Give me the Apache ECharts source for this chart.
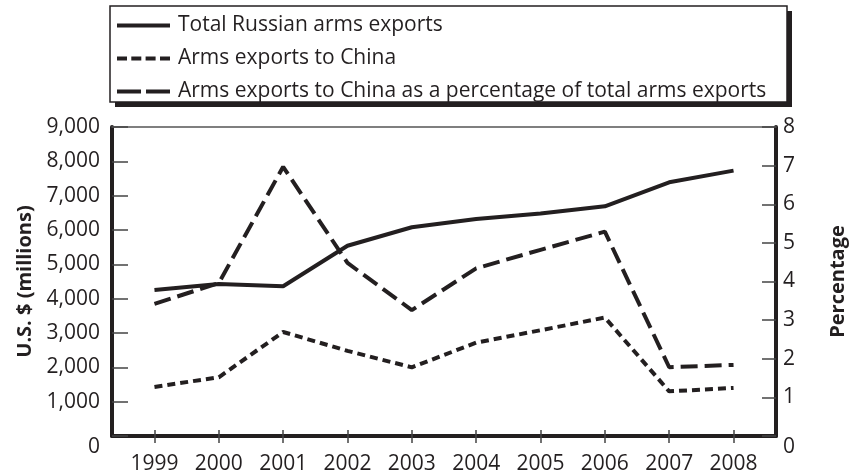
<!DOCTYPE html>
<html>
<head>
<meta charset="utf-8">
<script src="https://cdn.jsdelivr.net/npm/echarts@6/dist/echarts.min.js"></script>
<style>html,body{margin:0;padding:0;background:#fff}#c{width:856px;height:475px}</style>
</head>
<body>
<div id="c"></div>
<script>
const years = [1999, 2000, 2001, 2002, 2003, 2004, 2005, 2006, 2007, 2008];
const totalExports = [4250, 4430, 4360, 5540, 6080, 6320, 6480, 6690, 7390, 7730];
const chinaExports = [1430, 1710, 3030, 2480, 2000, 2720, 3080, 3450, 1300, 1400];
const chinaPercent = [3.42, 3.96, 6.97, 4.48, 3.26, 4.34, 4.82, 5.29, 1.78, 1.84];
const seriesNames = ['Total Russian arms exports', 'Arms exports to China', 'Arms exports to China as a percentage of total arms exports'];
const leftAxisName = 'U.S. $ (millions)';
const rightAxisName = 'Percentage';

const ink = '#231f20';
const font = 'Open Sans';
const fs = 21;
const pair = arr => years.map((y, i) => [y, arr[i]]);
const zeroRich = { z: { padding: [22, 0, 0, 0], fontSize: fs, fontFamily: font, color: ink } };
const legendIcons = [
  'path://M0,0h53v4h-53z',
  'path://M0,0h10v4h-10zM14.3,0h10v4h-10zM28.6,0h10v4h-10zM43,0h10v4h-10z',
  'path://M0,0h24v4h-24zM29,0h24v4h-24z'
];

const chart = echarts.init(document.getElementById('c'), null, { renderer: 'canvas' });
chart.setOption({
  animation: false,
  backgroundColor: '#fff',
  graphic: [
    { type: 'rect', shape: { x: 115, y: 11, width: 677, height: 96 }, style: { fill: ink }, z: -1 },
    { type: 'rect', shape: { x: 110, y: 6, width: 677, height: 96 }, style: { fill: '#fff', stroke: ink, lineWidth: 1.5 }, z: -1 }
  ],
  legend: {
    orient: 'vertical',
    left: 112,
    top: 10,
    itemWidth: 53,
    itemHeight: 4,
    itemGap: 12,
    textStyle: { fontFamily: font, fontSize: fs, color: ink, padding: [0, 0, 0, 3] },
    data: seriesNames.map((n, i) => ({ name: n, icon: legendIcons[i], itemStyle: { color: ink } }))
  },
  grid: { left: 112, right: 65, top: 127, bottom: 39, containLabel: false },
  xAxis: [
    {
      type: 'value', min: 1998.34, max: 2008.66, position: 'bottom',
      axisLine: { show: true, onZero: false, lineStyle: { color: ink, width: 4 } },
      axisTick: { show: true, inside: false, length: 7, lineStyle: { color: '#444', width: 1.5 }, customValues: years },
      axisLabel: { margin: 18, fontFamily: font, fontSize: fs, color: ink, customValues: years, formatter: v => String(v) },
      splitLine: { show: false }
    },
    {
      type: 'value', min: 1998.34, max: 2008.66, position: 'bottom',
      axisLine: { show: false, onZero: false },
      axisTick: { show: true, inside: true, length: 6, lineStyle: { color: '#444', width: 1.5 }, customValues: years },
      axisLabel: { show: false },
      splitLine: { show: false }
    },
    {
      type: 'value', min: 1998.34, max: 2008.66, position: 'top',
      axisLine: { show: true, onZero: false, lineStyle: { color: '#555', width: 1.5 } },
      axisTick: { show: false }, axisLabel: { show: false }, splitLine: { show: false }
    }
  ],
  yAxis: [
    {
      type: 'value', min: 0, max: 9000, interval: 1000, position: 'left',
      name: leftAxisName, nameLocation: 'middle', nameGap: 77, nameRotate: 90,
      nameTextStyle: { fontFamily: font, fontSize: fs - 1, fontWeight: 'bold', color: ink },
      axisLine: { show: true, onZero: false, lineStyle: { color: ink, width: 4 } },
      axisTick: { show: true, inside: true, length: 16, lineStyle: { color: '#444', width: 1.5 } },
      axisLabel: { margin: 12, fontFamily: font, fontSize: fs, color: ink, rich: zeroRich,
        formatter: v => v === 0 ? '{z|0}' : v.toLocaleString('en-US') },
      splitLine: { show: false }
    },
    {
      type: 'value', min: 0, max: 8, interval: 1, position: 'right',
      name: rightAxisName, nameLocation: 'middle', nameGap: 52, nameRotate: 90,
      nameTextStyle: { fontFamily: font, fontSize: fs - 1, fontWeight: 'bold', color: ink },
      axisLine: { show: true, onZero: false, lineStyle: { color: ink, width: 4 } },
      axisTick: { show: true, inside: true, length: 14, lineStyle: { color: '#444', width: 1.5 } },
      axisLabel: { margin: 7, fontFamily: font, fontSize: fs, color: ink, rich: zeroRich,
        formatter: v => v === 0 ? '{z|0}' : String(v) },
      splitLine: { show: false }
    }
  ],
  series: [
    { name: seriesNames[0], type: 'line', xAxisIndex: 0, yAxisIndex: 0, data: pair(totalExports),
      symbol: 'none', showSymbol: false, lineStyle: { color: ink, width: 4, type: 'solid' }, itemStyle: { color: ink } },
    { name: seriesNames[1], type: 'line', xAxisIndex: 0, yAxisIndex: 0, data: pair(chinaExports),
      symbol: 'none', showSymbol: false, lineStyle: { color: ink, width: 4, type: [8, 5] }, itemStyle: { color: ink } },
    { name: seriesNames[2], type: 'line', xAxisIndex: 0, yAxisIndex: 1, data: pair(chinaPercent),
      symbol: 'none', showSymbol: false, lineStyle: { color: ink, width: 4, type: [17, 7] }, itemStyle: { color: ink } }
  ]
});
</script>
</body>
</html>
